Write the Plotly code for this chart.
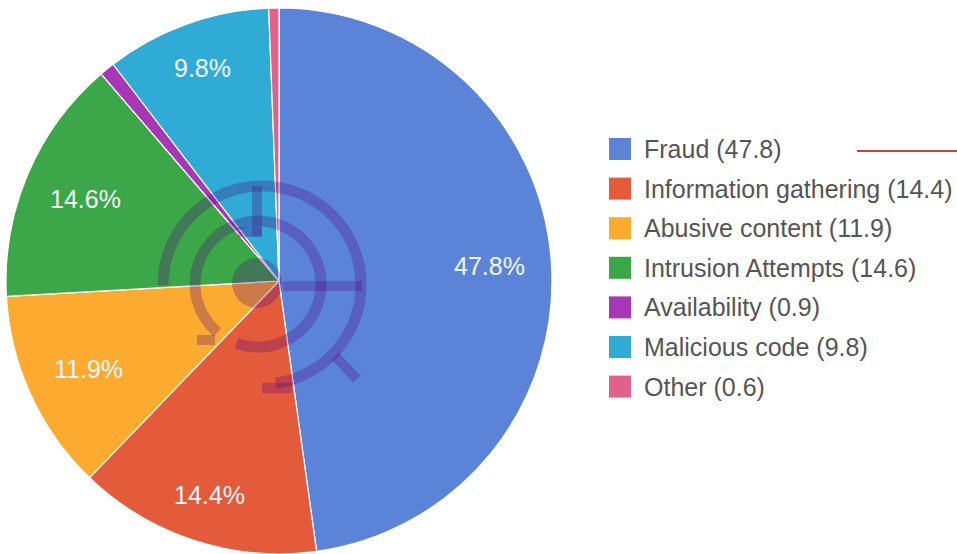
import numpy as np
import plotly.graph_objects as go

categories = ["Fraud", "Information gathering", "Abusive content", "Intrusion Attempts",
              "Availability", "Malicious code", "Other"]
values = [47.8, 14.4, 11.9, 14.6, 0.9, 9.8, 0.6]
colors = ["#5b84d9", "#e35b3a", "#fdab30", "#3ca748", "#a837b8", "#30abd5", "#e0628a"]
show_label = [True, True, True, True, False, True, False]

W, H = 957, 554
CX, CY, R = 279, 281, 273          # pie centre / radius in pixels
FS = 25

fig = go.Figure()

# invisible cartesian layer in pixel units (for decorations / labels / legend)
fig.add_trace(go.Scatter(x=[None], y=[None], showlegend=False, hoverinfo="skip"))

fig.add_trace(go.Pie(
    labels=categories, values=values, sort=False, direction="clockwise", rotation=0,
    marker=dict(colors=colors, line=dict(color="white", width=1.2)),
    textinfo="none",
    domain=dict(x=[(CX - R) / W, (CX + R) / W], y=[(H - CY - R) / H, (H - CY + R) / H]),
    showlegend=False, hoverinfo="label+percent",
))

annotations = []

# slice percentage labels (Google-chart style placement, derived from the values)
total = sum(values)
cum = 0.0
char_w = {"%": 0.889, ".": 0.278}
for v, s in zip(values, show_label):
    mid = (cum + v / 2) / total * 2 * np.pi
    cum += v
    if not s:
        continue
    txt = f"{v:.1f}%"
    hw = 0.5 * FS * sum(char_w.get(ch, 0.556) for ch in txt)
    hh = 0.5 * FS * 0.95
    sx, sy = np.sin(mid), -np.cos(mid)
    d = 0.905 * R - (hw * abs(sx) + hh * abs(sy))
    annotations.append(dict(x=CX + d * sx, y=CY + d * sy, xref="x", yref="y", text=txt,
                            showarrow=False, xanchor="center", yanchor="middle",
                            font=dict(family="Liberation Sans, Arial", size=FS, color="#f4f7fc")))

shapes = []
logo_col = "rgba(80,0,130,0.28)"


def arc(cx, cy, r, a0, a1, n=80):
    t = np.radians(np.linspace(a0, a1, n))
    xs = cx + r * np.cos(t)
    ys = cy + r * np.sin(t)
    return "M " + " L ".join(f"{x:.1f},{y:.1f}" for x, y in zip(xs, ys))


# watermark logo (decoration)
shapes.append(dict(type="path", path=arc(262, 285, 99, 180, 442), line=dict(color=logo_col, width=11),
                   xref="x", yref="y", layer="above"))
shapes.append(dict(type="path", path=arc(258, 284, 63, 130, 470), line=dict(color=logo_col, width=11),
                   xref="x", yref="y", layer="above"))
shapes.append(dict(type="circle", x0=232, x1=282, y0=258, y1=308, fillcolor=logo_col,
                   line=dict(width=0), xref="x", yref="y", layer="above"))
for (x0, y0, x1, y1) in [(257, 186, 257, 236), (283, 286, 362, 286), (335, 356, 357, 379),
                         (262, 388, 292, 388), (197, 340, 215, 340), (238, 232, 262, 232)]:
    shapes.append(dict(type="line", x0=x0, y0=y0, x1=x1, y1=y1, xref="x", yref="y",
                       line=dict(color=logo_col, width=10), layer="above"))

# red rule at top right
shapes.append(dict(type="line", x0=857, x1=957, y0=151, y1=151, xref="x", yref="y",
                   line=dict(color="#c94242", width=2), layer="above"))

# legend (manual, larger swatches)
row0, step = 149, 39.6
for i, (c, v, col) in enumerate(zip(categories, values, colors)):
    yc = row0 + i * step
    shapes.append(dict(type="rect", x0=609, x1=631, y0=yc - 11, y1=yc + 11, xref="x", yref="y",
                       fillcolor=col, line=dict(width=0), layer="above"))
    annotations.append(dict(x=642, y=yc, xref="x", yref="y", text=f"{c} ({v})", showarrow=False,
                            xanchor="left", yanchor="middle",
                            font=dict(family="Liberation Sans, Arial", size=FS, color="#555555")))

fig.update_layout(
    width=W, height=H, margin=dict(l=0, r=0, t=0, b=0),
    paper_bgcolor="white", plot_bgcolor="rgba(0,0,0,0)",
    xaxis=dict(range=[0, W], visible=False, domain=[0, 1], fixedrange=True),
    yaxis=dict(range=[H, 0], visible=False, domain=[0, 1], fixedrange=True),
    shapes=shapes, annotations=annotations, showlegend=False,
)

fig.write_html("out.html", config={"displayModeBar": False},
               post_script="document.body.style.margin='0';")
